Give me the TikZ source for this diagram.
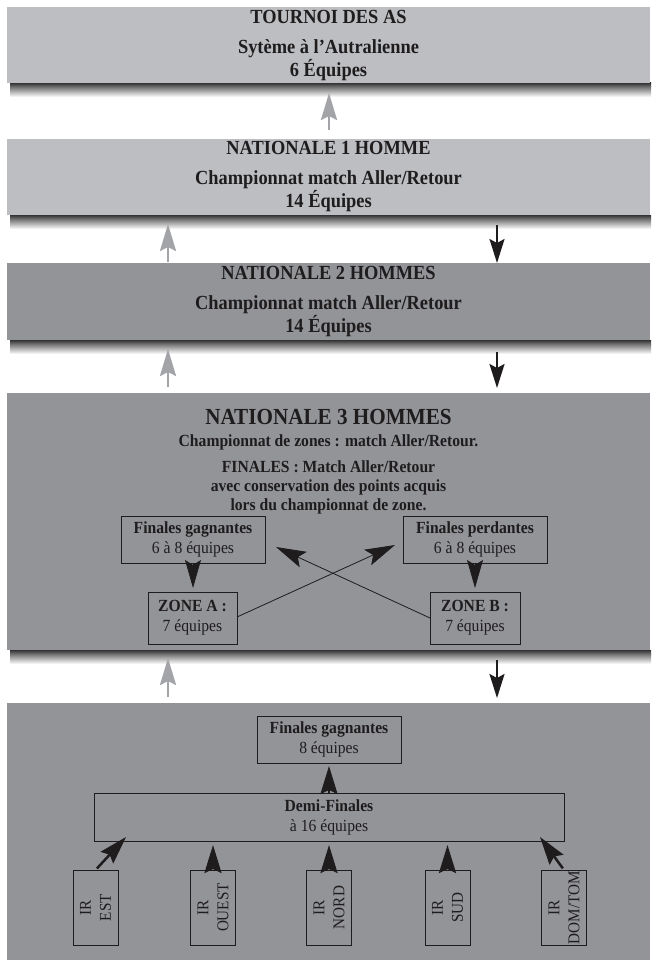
\documentclass[tikz,border=0pt]{standalone}
\usepackage{fontspec}
\setmainfont{Liberation Serif}[FakeStretch=0.92]
\usetikzlibrary{arrows.meta,calc}
\definecolor{lightp}{RGB}{189,190,193}
\definecolor{darkp}{RGB}{147,148,152}
\definecolor{garr}{RGB}{163,164,167}
\definecolor{ink}{RGB}{30,28,29}
\newcommand\pshadow[1]{%
  \shade[top color=black!80, bottom color=black!55] (10,#1) rectangle (651,{#1+4});
  \shade[top color=black!55, bottom color=white] (10,{#1+4}) rectangle (651,{#1+14});
}
\tikzset{
  panel/.style={draw=none, inner sep=0pt, outer sep=0pt, anchor=north west, minimum width=643pt},
  ptitle/.style={anchor=base, inner sep=0pt, text=ink, font=\fontsize{20}{22}\selectfont\bfseries},
  bigtitle/.style={anchor=base, inner sep=0pt, text=ink, font=\fontsize{23}{25}\selectfont\bfseries},
  pline/.style={anchor=base, inner sep=0pt, text=ink, font=\fontsize{17}{20}\selectfont\bfseries},
  box/.style={draw=ink, line width=0.9pt, inner sep=0pt, outer sep=0pt, align=center, text=ink, font=\fontsize{17}{20}\selectfont},
  irbox/.style={draw=ink, line width=0.9pt, inner sep=0pt, outer sep=0pt, minimum width=45pt, minimum height=75pt},
  irtext/.style={rotate=90, align=center, inner sep=0pt, text=ink, font=\fontsize{16.5}{20}\selectfont},
  garrow/.style={draw=garr, line width=2.6pt, -{Stealth[length=27pt,width=16pt,inset=4pt]}},
  barrow/.style={draw=ink, line width=2pt, -{Stealth[length=24pt,width=15pt,inset=4pt]}},
  thinarrow/.style={draw=ink, line width=0.8pt, -{Stealth[length=30pt,width=17pt,inset=6pt]}},
  downtip/.style={draw=ink, line width=0.8pt, -{Stealth[length=28pt,width=16pt,inset=5pt]}},
  thickarrow/.style={draw=ink, line width=2.5pt, -{Stealth[length=28pt,width=17pt,inset=4pt]}},
}
\begin{document}
\begin{tikzpicture}[x=1pt,y=-1pt]
\useasboundingbox (0,0) rectangle (651,960);
\fill[white] (0,0) rectangle (651,960);

% shadows
\pshadow{83}
\pshadow{215}
\pshadow{340}
\pshadow{650}

% panels
\node[panel, fill=lightp, minimum height=76pt] (p1) at (7,7) {};
\node[panel, fill=lightp, minimum height=76pt] (p2) at (7,139) {};
\node[panel, fill=darkp, minimum height=77pt] (p3) at (7,263) {};
\node[panel, fill=darkp, minimum height=257pt] (p4) at (7,393) {};
\node[panel, fill=darkp, minimum height=257pt] (p5) at (7,703) {};

\coordinate (L) at (168,0);
\coordinate (C) at (329,0);
\coordinate (R) at (497,0);

% panel 1
\node[ptitle] (t1) at (328.5,24) {TOURNOI DES AS};
\node[ptitle] (t1b) at (328.5,54) {Sytème à l’Autralienne};
\node[ptitle] (t1c) at (328.5,77) {6 Équipes};
% panel 2
\node[ptitle] (t2) at (328.5,155) {NATIONALE 1 HOMME};
\node[ptitle] (t2b) at (328.5,185) {Championnat match Aller/Retour};
\node[ptitle] (t2c) at (328.5,207) {14 Équipes};
% panel 3
\node[ptitle] (t3) at (328.5,279) {NATIONALE 2 HOMMES};
\node[ptitle] (t3b) at (328.5,309) {Championnat match Aller/Retour};
\node[ptitle] (t3c) at (328.5,332) {14 Équipes};
% panel 4
\node[bigtitle] (t4) at (328.5,424) {NATIONALE 3 HOMMES};
\node[pline] (t4b) at (328.5,446) {Championnat de zones : match Aller/Retour.};
\node[pline] (t4c) at (328.5,472) {FINALES : Match Aller/Retour};
\node[pline] (t4d) at (328.5,491) {avec conservation des points acquis};
\node[pline] (t4e) at (328.5,510) {lors du championnat de zone.};

\node[box, minimum width=144pt, minimum height=47pt] (fg) at (193,539.5) {{\bfseries Finales gagnantes}\\6 à 8 équipes};
\node[box, minimum width=144pt, minimum height=47pt] (fp) at (475,539.5) {{\bfseries Finales perdantes}\\6 à 8 équipes};
\node[box, minimum width=89pt, minimum height=52pt] (za) at (192.5,618) {{\bfseries ZONE A :}\\7 équipes};
\node[box, minimum width=90pt, minimum height=52pt] (zb) at (475,618) {{\bfseries ZONE B :}\\7 équipes};

\draw[downtip, shorten >=4pt] (fg.south) -- (fg.south |- za.north);
\draw[downtip, shorten >=4pt] (fp.south) -- (fp.south |- zb.north);
\draw[thinarrow] ($(za.east)+(0,-1)$) -- ($(fp.west)+(-8,5.5)$);
\draw[thinarrow] (zb.west) -- ($(fg.east)+(11,7.5)$);

% panel 5
\node[box, minimum width=144pt, minimum height=47pt] (fg2) at (329,739.5) {{\bfseries Finales gagnantes}\\8 équipes};
\node[box, minimum width=470pt, minimum height=48pt] (demi) at (329,817) {{\bfseries Demi-Finales}\\à 16 équipes};

\node[irbox] (est) at (95.5,907.5) {};
\node[irbox] (ouest) at (213,907.5) {};
\node[irbox] (nord) at (329,907.5) {};
\node[irbox] (sud) at (447.5,907.5) {};
\node[irbox] (dom) at (564,907.5) {};
\node[irtext] (estt) at (est.center) {IR\\EST};
\node[irtext] (ouestt) at (ouest.center) {IR\\OUEST};
\node[irtext] (nordt) at (nord.center) {IR\\NORD};
\node[irtext] (sudt) at (sud.center) {IR\\SUD};
\node[irtext] (domt) at (dom.center) {IR\\DOM/TOM};

\draw[thickarrow, shorten >=3pt] (demi.north -| fg2.south) -- (fg2.south);
\draw[thickarrow, shorten <=2pt] (est.north) -- ($(demi.south west)+(32,-4)$);
\draw[thickarrow, shorten <=2pt, shorten >=4pt] (ouest.north) -- (ouest.north |- demi.south);
\draw[thickarrow, shorten <=2pt, shorten >=4pt] (nord.north) -- (nord.north |- demi.south);
\draw[thickarrow, shorten <=2pt, shorten >=4pt] (sud.north) -- (sud.north |- demi.south);
\draw[thickarrow, shorten <=2pt] (dom.north) -- ($(demi.south east)+(-24,-4)$);

% arrows between panels
\draw[garrow, shorten <=9pt, shorten >=10pt] (p2.north -| C) -- (p1.south -| C);
\draw[garrow, shorten <=1pt, shorten >=9pt] (p3.north -| L) -- (p2.south -| L);
\draw[garrow, shorten <=6pt, shorten >=9pt] (p4.north -| L) -- (p3.south -| L);
\draw[garrow, shorten <=6pt, shorten >=8pt] (p5.north -| L) -- (p4.south -| L);
\draw[barrow, shorten <=10pt] (p2.south -| R) -- (p3.north -| R);
\draw[barrow, shorten <=12pt, shorten >=5pt] (p3.south -| R) -- (p4.north -| R);
\draw[barrow, shorten <=10pt, shorten >=5pt] (p4.south -| R) -- (p5.north -| R);
\end{tikzpicture}
\end{document}
